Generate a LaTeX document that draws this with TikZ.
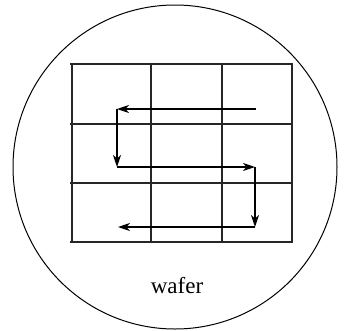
\documentclass[tikz,border=0pt]{standalone}
\usepackage{fontspec}
\setmainfont{Liberation Serif}
\usetikzlibrary{arrows.meta}
\tikzset{
    gridline/.style={line width=1.6pt, black!85},
    scanarrow/.style={line width=1.6pt, -{Stealth[length=12pt, width=8pt, inset=3.5pt]}}
}
\begin{document}
\begin{tikzpicture}[x=1pt, y=-1pt]
        \useasboundingbox (0,0) rectangle (345,330);

        \draw[line width=1pt] (175,167) circle (162);

        \foreach \y in {64,124,183,242}
            \draw[gridline] (70,\y) -- (293,\y);
        \foreach \x in {72,151,222,292}
            \draw[gridline] (\x,64) -- (\x,243);

        \coordinate (p1) at (256,109);
        \coordinate (p2) at (117,109);
        \coordinate (p3) at (117,167);
        \coordinate (p4) at (255,167);
        \coordinate (p5) at (255,227);
        \coordinate (p6) at (118,227);

        \draw[scanarrow] (p1) -- (p2);
        \draw[scanarrow] (p2) -- (p3);
        \draw[scanarrow] (p3) -- (p4);
        \draw[scanarrow] (p4) -- (p5);
        \draw[scanarrow] (p5) -- (p6);

        \node[font=\fontsize{23}{26}\selectfont] (label) at (177,286) {wafer};
    \end{tikzpicture}
\end{document}
